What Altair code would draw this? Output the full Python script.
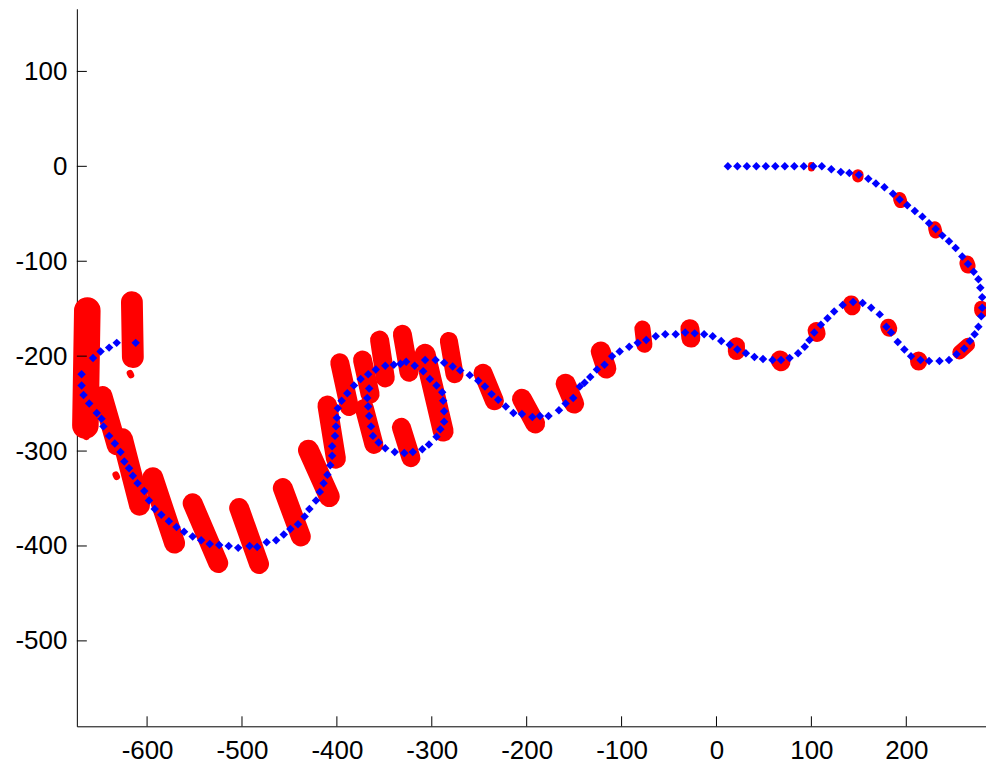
import altair as alt
import pandas as pd

# ---- axis ticks ----
x_ticks = [-600, -500, -400, -300, -200, -100, 0, 100, 200]
y_ticks = [-500, -400, -300, -200, -100, 0, 100]

# ---- blue trajectory markers ----
blue_x = [12, 22, 32, 42, 52, 62, 72, 82, 92, 102, 111,
          121, 131, 140, 150, 160, 168, 177, 186, 193, 201, 209, 217, 224, 231, 238, 245, 252, 259, 265, 271,
          276, 278, 280, 280, 279, 276, 272, 267, 261, 253, 245, 235, 224, 215, 205, 198, 191, 184, 179, 172,
          163, 154, 144, 133, 124, 117, 110, 103, 98, 93, 86, 77, 68, 59, 49, 40, 31, 22, 14, 5, -4, -13,
          -23, -33, -43, -54, -64, -74, -83, -92, -102, -110, -118, -126, -133, -139, -144, -151, -159, -166,
          -177, -186, -194, -205, -214, -222, -230, -237, -244, -251, -260, -270, -278, -287, -296, -307,
          -318, -327, -333, -340, -349, -359, -367, -375, -382, -389, -395, -399, -400, -401, -402, -405,
          -405, -407, -410, -414, -418, -422, -429, -434, -441, -449, -456, -464, -474, -484, -492, -504,
          -514, -524, -534, -543, -552, -561, -569, -577, -585, -592, -598, -603, -610, -615, -619, -624,
          -628, -634, -640, -646, -648, -653, -661, -667, -669, -669,
          -657, -649, -640, -632, -612,
          -309, -302, -295, -289, -288, -287, -287, -291, -295, -303, -310, -320, -329, -339, -349, -356,
          -362, -364, -366, -367, -368, -366]
blue_y = [0, 0, 0, 0, 0, 0, 0, 0, 0, 0, 0,
          -3, -6, -7, -9, -13, -18, -22, -29, -35, -41, -47, -53, -60, -66, -73, -79, -86, -95, -103, -111,
          -119, -128, -138, -149, -158, -169, -177, -184, -192, -198, -204, -205, -205, -204, -200, -193, -185, -175, -169, -156,
          -149, -144, -143, -146, -153, -160, -167, -175, -183, -190, -197, -202, -204, -204, -203, -201, -197, -193, -188, -184, -179, -177,
          -176, -175, -177, -177, -179, -183, -186, -190, -195, -200, -209, -214, -222, -228, -232, -244, -250, -257,
          -263, -263, -264, -261, -260, -253, -246, -240, -232, -226, -220, -215, -211, -207, -204, -204,
          -210, -206, -208, -209, -210, -214, -219, -224, -231, -239, -247, -255, -265, -274, -284, -295,
          -305, -315, -325, -334, -343, -352, -361, -369, -377, -382, -388, -394, -396, -401, -400, -402,
          -400, -399, -398, -394, -390, -385, -380, -374, -367, -361, -352, -342, -334, -326, -318, -311,
          -301, -292, -284, -274, -266, -260, -250, -241, -231, -219,
          -202, -195, -191, -186, -186,
          -216, -224, -231, -238, -247, -258, -269, -277, -285, -293, -298, -301, -302, -301, -297, -291,
          -284, -274, -263, -253, -244, -234]

# ---- red particle clouds: spine end points and horizontal spread (data units) ----
cl_x1 = [100, 149, 193, 230, 264, 279, 256, 213, 181, 142, 105, 67, 21, -28, -78,
         -122, -159, -205, -246, -282, -307, -331, -355, -373, -397, -371, -332, -410, -430, -457,
         -503, -552, -594, -626, -647, -663, -616, -618, -664, -633]
cl_y1 = [1, -9, -34, -65, -102, -149, -196, -204, -169, -145, -173, -204, -189, -171, -171,
         -195, -229, -245, -218, -184, -198, -177, -183, -204, -207, -255, -275, -252, -299, -339,
         -360, -355, -328, -287, -242, -152, -143, -218, -283, -325]
cl_x2 = [100, 149, 194, 231, 265, 279, 265, 213, 182, 143, 106, 68, 21, -27, -76,
         -116, -150, -191, -234, -276, -288, -324, -349, -365, -387, -361, -322, -401, -408, -438,
         -482, -525, -571, -608, -632, -665, -615, -617, -664, -632]
cl_y2 = [-2, -11, -37, -69, -105, -152, -188, -206, -171, -148, -176, -206, -195, -181, -188,
         -213, -250, -271, -247, -219, -279, -217, -223, -240, -253, -293, -307, -308, -348, -390,
         -419, -418, -397, -357, -294, -273, -201, -220, -285, -327]
cl_spread = [7, 12, 14, 14, 16, 15, 15, 18, 17, 18, 18, 20, 18, 20, 17,
             21, 21, 21, 20, 19, 22, 20, 20, 20, 20, 20, 20, 21, 22, 21,
             21, 21, 22, 22, 21, 28, 23, 7, 7, 7]

red_rows = []
for i, (a, b, c, d, s) in enumerate(zip(cl_x1, cl_y1, cl_x2, cl_y2, cl_spread)):
    red_rows.append({"id": i, "k": 0, "x": a, "y": b, "s": s})
    red_rows.append({"id": i, "k": 1, "x": c, "y": d, "s": s})
red_df = pd.DataFrame(red_rows)
blue_df = pd.DataFrame({"x": blue_x, "y": blue_y})
xt_df = pd.DataFrame({"x": x_ticks})
yt_df = pd.DataFrame({"y": y_ticks})

FONT = "Liberation Sans"

xs = alt.Scale(domain=[-674, 284], nice=False, zero=False)
ys = alt.Scale(domain=[-590, 166], nice=False, zero=False)

xaxis = alt.Axis(values=x_ticks, title=None, grid=False, ticks=False, tickSize=0,
                 domainColor="black", domainWidth=1, labelFont=FONT, labelFontSize=26,
                 labelColor="black", labelPadding=11, labelOverlap=False, labelFlush=False,
                 labelBaseline="top", labelExpr="'' + datum.value")
yaxis = alt.Axis(values=y_ticks, title=None, grid=False, ticks=False, tickSize=0,
                 domainColor="black", domainWidth=1, labelFont=FONT, labelFontSize=26,
                 labelColor="black", labelPadding=10, labelOverlap=False, labelFlush=False,
                 labelExpr="'' + datum.value")

X = alt.X("x:Q", scale=xs, axis=xaxis)
Y = alt.Y("y:Q", scale=ys, axis=yaxis)

red = alt.Chart(red_df).mark_line(color="#ff0000", strokeCap="round", strokeJoin="round").encode(
    x=X, y=Y, detail="id:N", order="k:Q",
    strokeWidth=alt.StrokeWidth("s:Q", scale=alt.Scale(domain=[0, 100], range=[0, 95.1]), legend=None),
)

blue = alt.Chart(blue_df).mark_point(shape="diamond", filled=True, color="#0000ff",
                                      size=72, opacity=1, strokeWidth=0).encode(x=X, y=Y)

xt = alt.Chart(xt_df).mark_rule(color="black", strokeWidth=1).encode(
    x=X, y=alt.value(719), y2=alt.value(709))
yt = alt.Chart(yt_df).mark_rule(color="black", strokeWidth=1).encode(
    y=Y, x=alt.value(0), x2=alt.value(10))

chart = alt.layer(red, blue, xt, yt).properties(
    width=911, height=719,
    autosize=alt.AutoSizeParams(type="none"),
    padding={"left": 69, "top": 0, "right": 0, "bottom": 40},
    background="white",
).configure_view(stroke=None)

chart.save("out.html", embed_options={"renderer": "svg", "actions": False})
